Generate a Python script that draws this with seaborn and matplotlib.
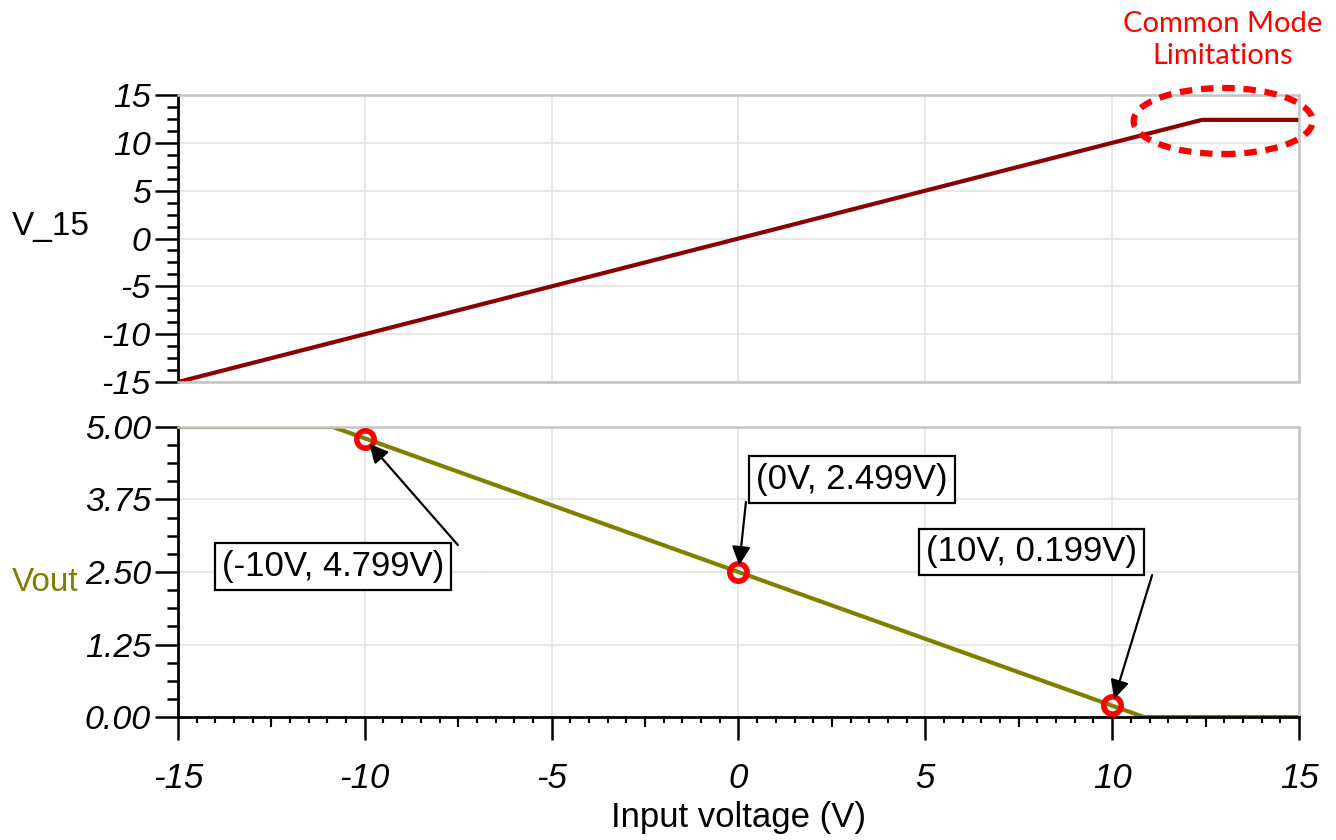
import matplotlib
matplotlib.use("Agg")
import matplotlib.pyplot as plt
from matplotlib.patches import Ellipse
from matplotlib.ticker import MultipleLocator, FormatStrFormatter
import matplotlib.transforms as mtransforms
import seaborn as sns
import pandas as pd
import numpy as np

# ---- data ----
v15_x = [-15.0, 12.4, 15.0]
v15_y = [-15.0, 12.4, 12.4]
vout_x = [-15.0, -10.85, 10.85, 15.0]
vout_y = [5.0, 5.0, 0.0, 0.0]

marker_x = [-10.0, 0.0, 10.0]
marker_y = [4.799, 2.499, 0.199]
marker_labels = ["(-10V, 4.799V)", "(0V, 2.499V)", "(10V, 0.199V)"]
label_pos = [(-10.85, 2.60), (3.04, 4.10), (7.83, 2.845)]
arrow_tail = [(-7.51, 2.966), (0.2, 3.707), (11.07, 2.448)]

x_ticks = [-15, -10, -5, 0, 5, 10, 15]
x_mid_ticks = [-12.5, -7.5, -2.5, 2.5, 7.5, 12.5]
top_yticks = [-15, -10, -5, 0, 5, 10, 15]
bot_yticks = [0.0, 1.25, 2.50, 3.75, 5.00]

sns.set_style("white")
plt.rcParams['font.family'] = ['Liberation Sans', 'DejaVu Sans']
plt.rcParams['axes.unicode_minus'] = False
plt.rcParams['text.color'] = 'black'
plt.rcParams['axes.labelcolor'] = 'black'
plt.rcParams['xtick.color'] = 'black'
plt.rcParams['ytick.color'] = 'black'

fig = plt.figure(figsize=(13.36, 8.4), dpi=100)
ax1 = fig.add_axes([0.1332, 0.5452, 0.8391, 0.3417])
ax2 = fig.add_axes([0.1332, 0.1464, 0.8391, 0.3453])

dark_red = "#8b0000"
olive = "#808000"
grid_c = "#e3e3e3"
spine_gray = "#c4c4c4"

df1 = pd.DataFrame({"x": v15_x, "y": v15_y})
df2 = pd.DataFrame({"x": vout_x, "y": vout_y})
sns.lineplot(data=df1, x="x", y="y", ax=ax1, color=dark_red, lw=3, estimator=None, sort=False)
sns.lineplot(data=df2, x="x", y="y", ax=ax2, color=olive, lw=3, estimator=None, sort=False)

for ax in (ax1, ax2):
    ax.set_xlim(-15, 15)
    ax.set_xticks(x_ticks)
    ax.grid(True, color=grid_c, lw=1.2)
    ax.set_axisbelow(True)
    ax.spines['top'].set_color(spine_gray)
    ax.spines['right'].set_color(spine_gray)
    ax.spines['top'].set_linewidth(1.8)
    ax.spines['right'].set_linewidth(1.8)
    ax.spines['left'].set_color('black')
    ax.spines['left'].set_linewidth(2)
    ax.set_xlabel("")
    ax.tick_params(axis='y', which='major', left=True, direction='out', length=16.5, width=1.8,
                   labelsize=24.5, pad=3, color='black', labelcolor='black')
    ax.tick_params(axis='y', which='minor', left=True, direction='out', length=8, width=1.8,
                   color='black')

# top axes
ax1.set_ylim(-15, 15)
ax1.set_yticks(top_yticks)
ax1.yaxis.set_minor_locator(MultipleLocator(1.25))
ax1.spines['bottom'].set_color(spine_gray)
ax1.spines['bottom'].set_linewidth(1.8)
ax1.tick_params(axis='x', which='both', bottom=False, length=0, labelbottom=False)
ax1.set_ylabel("V_15", rotation=0, ha='left', va='center', fontsize=24, color='black')
ax1.yaxis.set_label_coords(-0.148, 0.5436)

# bottom axes
ax2.set_ylim(0, 5)
ax2.set_yticks(bot_yticks)
ax2.yaxis.set_major_formatter(FormatStrFormatter('%.2f'))
ax2.yaxis.set_minor_locator(MultipleLocator(0.3125))
ax2.xaxis.set_minor_locator(MultipleLocator(0.5))
ax2.spines['bottom'].set_color('black')
ax2.spines['bottom'].set_linewidth(2)
ax2.tick_params(axis='x', which='major', bottom=True, direction='out', length=16.5, width=1.8,
                labelsize=25, pad=16, color='black', labelcolor='black')
ax2.tick_params(axis='x', which='minor', bottom=True, direction='out', length=4, width=1.5,
                color='black')
ax2.set_ylabel("Vout", rotation=0, ha='left', va='center', fontsize=24, color=olive)
ax2.yaxis.set_label_coords(-0.148, 0.4655)
ax2.set_xlabel("Input voltage (V)", fontsize=25, labelpad=4, color='black')

# medium ticks at 2.5 intervals on bottom x axis
trans = mtransforms.blended_transform_factory(ax2.transData, ax2.transAxes)
ax2.vlines(x_mid_ticks, 0, -10 / 290, transform=trans, colors='black', lw=1.5, clip_on=False)

for ax in (ax1, ax2):
    for lab in ax.get_yticklabels() + ax.get_xticklabels():
        lab.set_fontstyle('italic')

# markers & annotations
ax2.plot(marker_x, marker_y, ls='none', marker='o', ms=12.5, mfc='none', mec='#ff0000',
         mew=4, zorder=5, clip_on=False)
for (px, py), lbl, (tx, ty), (ax_, ay_) in zip(zip(marker_x, marker_y), marker_labels,
                                               label_pos, arrow_tail):
    ax2.annotate("", xy=(px, py), xytext=(ax_, ay_),
                 arrowprops=dict(arrowstyle='-|>', color='black', lw=1.6,
                                 mutation_scale=28, shrinkA=0, shrinkB=5), zorder=6)
    ax2.text(tx, ty, lbl, ha='center', va='center', fontsize=25, zorder=7,
             bbox=dict(boxstyle='square,pad=0.2', fc='white', ec='black', lw=1.6))

# common mode annotation
ell = Ellipse((12.97, 12.28), width=4.79, height=6.9, fill=False, ec='#ff0000', lw=4.5,
              ls=(0, (2.0, 1.4)), clip_on=False, zorder=6)
ax1.add_patch(ell)
fig.text(1223 / 1336, 1 - 40 / 840, "Common Mode\nLimitations", ha='center', va='center',
         fontsize=21, color='#ff0000', family=['Lato', 'DejaVu Sans'], linespacing=1.3)

fig.savefig("out.png", dpi=100)
